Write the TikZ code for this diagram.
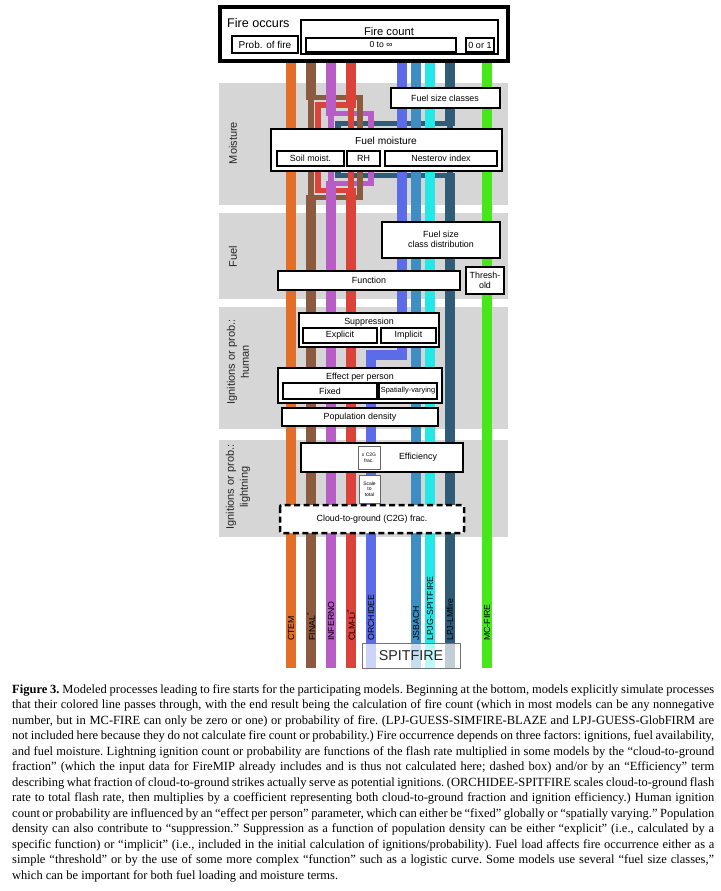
\documentclass[tikz,border=0pt]{standalone}
\usepackage{fontspec}
\setmainfont{Liberation Serif}
\newfontfamily\diagfont{Liberation Sans}
\usetikzlibrary{calc}

\definecolor{ctem}{RGB}{226,110,40}
\definecolor{final}{RGB}{140,90,62}
\definecolor{inferno}{RGB}{184,92,198}
\definecolor{clmli}{RGB}{218,66,58}
\definecolor{orchidee}{RGB}{92,108,232}
\definecolor{jsbach}{RGB}{62,142,196}
\definecolor{lpjgspit}{RGB}{36,232,232}
\definecolor{lmfire}{RGB}{48,92,120}
\definecolor{mcfire}{RGB}{70,232,26}
\definecolor{bandgrey}{RGB}{214,214,214}

\def\capline#1{\hbox to 702pt{#1}}

\tikzset{
	band/.style={fill=bandgrey},
	modelline/.style={line width=9.5pt, line cap=butt, line join=miter},
	loopline/.style={line width=5.5pt, line join=miter},
	procbox/.style={draw=black, fill=white, line width=2.5pt},
	subbox/.style={draw=black, fill=white, line width=1.2pt},
	tinybox/.style={draw=black!60, fill=white, line width=0.8pt},
	boxtxt/.style={inner sep=0pt, font=\diagfont\fontsize{8.9}{10.5}\selectfont, align=center},
	smalltxt/.style={inner sep=0pt, font=\diagfont\fontsize{7.4}{9}\selectfont},
	tinytxt/.style={inner sep=0pt, font=\diagfont\fontsize{5}{5.6}\selectfont, align=center},
	sectlbl/.style={inner sep=0pt, rotate=90, align=center, font=\diagfont\fontsize{11}{14}\selectfont, text=black!85},
	modellbl/.style={inner sep=0pt, rotate=90, anchor=west, font=\diagfont\fontsize{8.8}{10}\selectfont}
}

\begin{document}
\begin{tikzpicture}[x=1pt,y=-1pt]
			\useasboundingbox (0,0) rectangle (720,891);
			%%%%% START %%%%%
			
			% grey bands
			\fill[band] (219,83) rectangle (508,205);
			\fill[band] (219,213) rectangle (508,299);
			\fill[band] (219,307) rectangle (508,429);
			\fill[band] (219,440) rectangle (508,537);
			
			\node[sectlbl] (lblmoist) at (233,143) {Moisture};
			\node[sectlbl] (lblfuel) at (233,257) {Fuel};
			\node[sectlbl] (lblhuman) at (238,362) {Ignitions or prob.:\\human};
			\node[sectlbl] (lbllight) at (238,487) {Ignitions or prob.:\\lightning};
			
			% moisture detours
			\draw[loopline, draw=lmfire] (338,123.5) rectangle (450,175.5);
			\draw[loopline, draw=inferno] (331,113.5) rectangle (371,183.5);
			\draw[loopline, draw=clmli] (318,105) rectangle (351,190.5);
			\draw[loopline, draw=final] (311,97.5) rectangle (360,197.5);
			
			% model lines
			\draw[modelline, draw=ctem] (291,58) -- (291,668);
			\draw[modelline, draw=final] (311,58) -- (311,100);
			\draw[modelline, draw=final] (311,195) -- (311,668);
			\draw[modelline, draw=inferno] (331,58) -- (331,116);
			\draw[modelline, draw=inferno] (331,181) -- (331,668);
			\draw[modelline, draw=clmli] (351,58) -- (351,107.5);
			\draw[modelline, draw=clmli] (351,188) -- (351,668);
			\draw[modelline, draw=orchidee] (402,58) -- (402,355) -- (371,355) -- (371,668);
			\draw[modelline, draw=jsbach] (416,58) -- (416,668);
			\draw[modelline, draw=lpjgspit] (430,58) -- (430,668);
			\draw[modelline, draw=lmfire] (450,58) -- (450,126);
			\draw[modelline, draw=lmfire] (450,173) -- (450,668);
			\draw[modelline, draw=mcfire] (487,58) -- (487,668);
			
			% fire occurs
			\draw[line width=3.5pt, fill=white] (220,7) rectangle (508,61);
			\node[anchor=west, inner sep=0pt, font=\diagfont\fontsize{12.6}{14}\selectfont] (fireoccurs) at (227,23) {Fire occurs};
			\draw[line width=1.4pt] (232,36) rectangle (298,53);
			\node[inner sep=0pt, font=\diagfont\fontsize{10}{12}\selectfont] (probfire) at (265,45) {Prob. of fire};
			\draw[line width=1.4pt] (301,20) rectangle (498,54);
			\node[inner sep=0pt, font=\diagfont\fontsize{11.2}{13}\selectfont] (firecount) at (389,31) {Fire count};
			\draw[line width=1.4pt] (306,38) rectangle (456,52);
			\node[inner sep=0pt, font=\diagfont\fontsize{8.6}{10}\selectfont] (zeroinf) at (381,45) {0 to ∞};
			\draw[line width=1.4pt] (466,38) rectangle (494,52);
			\node[inner sep=0pt, font=\diagfont\fontsize{9}{10}\selectfont] (zeroone) at (480,45) {0 or 1};
			
			% moisture
			\draw[procbox] (391,88) rectangle (500,108);
			\node[boxtxt] (sizeclasses) at (445,98) {Fuel size classes};
			\draw[procbox] (271,129) rectangle (502,171);
			\node[boxtxt, font=\diagfont\fontsize{10.2}{12}\selectfont] (fuelmoist) at (386,141) {Fuel moisture};
			\draw[subbox] (277,151) rectangle (344,166);
			\node[boxtxt] (soilmoist) at (310.5,158.5) {Soil moist.};
			\draw[subbox] (347,151) rectangle (380,166);
			\node[boxtxt] (relhum) at (363.5,158.5) {RH};
			\draw[subbox] (385,151) rectangle (497,166);
			\node[boxtxt] (nesterov) at (441,158.5) {Nesterov index};
			
			% fuel
			\draw[procbox] (382,222) rectangle (500,258);
			\node[boxtxt] (sizedist) at (441,239.5) {Fuel size\\class distribution};
			\draw[procbox] (278,271) rectangle (460,290);
			\node[boxtxt] (function) at (369,280.5) {Function};
			\draw[procbox] (466,267) rectangle (504,294);
			\node[boxtxt] (threshold) at (485,280.5) {Thresh-\\old};
			
			% human
			\draw[procbox] (299,313) rectangle (439,347);
			\node[boxtxt] (suppress) at (369,322) {Suppression};
			\draw[subbox] (303,328) rectangle (377,343);
			\node[boxtxt] (explicit) at (340,335.5) {Explicit};
			\draw[subbox] (381,328) rectangle (436,343);
			\node[boxtxt] (implicit) at (408.5,335.5) {Implicit};
			\draw[procbox] (278,368) rectangle (442,403);
			\node[boxtxt] (perperson) at (360,377) {Effect per person};
			\draw[subbox] (283,383) rectangle (377,399);
			\node[boxtxt] (fixed) at (330,391) {Fixed};
			\draw[subbox] (379,383) rectangle (437,399);
			\node[smalltxt] (spatvar) at (408,391) {Spatially-varying};
			\draw[procbox] (282,408) rectangle (438,426);
			\node[boxtxt] (popdens) at (360,417) {Population density};
			
			% lightning
			\draw[procbox] (301,443) rectangle (463,472);
			\node[boxtxt] (efficiency) at (418,457.5) {Efficiency};
			\draw[tinybox] (358,446) rectangle (380,469);
			\node[tinytxt] (xctog) at (369,457.5) {x C2G\\frac.};
			\draw[tinybox] (359,475) rectangle (380,503);
			\node[tinytxt] (scaletotal) at (369.5,489) {Scale\\to\\total};
			\draw[procbox, dashed, dash pattern=on 6pt off 3.5pt, rounded corners=2pt] (280,505) rectangle (464,533);
			\node[boxtxt] (ctogfrac) at (372,519) {Cloud-to-ground (C2G) frac.};
			
			% model names
			\node[modellbl] (nmctem) at (291,641) {CTEM};
			\node[modellbl] (nmfinal) at (311,641) {FINAL\textsuperscript{*}};
			\node[modellbl] (nminferno) at (331,641) {INFERNO};
			\node[modellbl] (nmclmli) at (351,641) {CLM-Li\textsuperscript{*}};
			\node[modellbl] (nmorchidee) at (371,641) {ORCHIDEE};
			\node[modellbl] (nmjsbach) at (416,641) {JSBACH};
			\node[modellbl] (nmlpjgspit) at (430,641) {LPJG-SPITFIRE};
			\node[modellbl] (nmlmfire) at (450,641) {LPJ-LMfire};
			\node[modellbl] (nmmcfire) at (487,641) {MC-FIRE};
			
			\draw[draw=black!55, fill=white, fill opacity=0.7, line width=1pt] (362,643) rectangle (460,668);
			\node[inner sep=0pt, font=\diagfont\fontsize{14.3}{16}\selectfont, text=black!85] (spitfire) at (411,656) {SPITFIRE};
			
			% caption
			\node[anchor=north west, inner sep=0pt] (caption) at (12,684) {\begin{minipage}{702pt}\fontsize{12.5}{15.5}\selectfont\frenchspacing
				\capline{\textbf{Figure 3.} Modeled processes leading to fire starts for the participating models. Beginning at the bottom, models explicitly simulate processes}
				\capline{that their colored line passes through, with the end result being the calculation of fire count (which in most models can be any nonnegative}
				\capline{number, but in MC-FIRE can only be zero or one) or probability of fire. (LPJ-GUESS-SIMFIRE-BLAZE and LPJ-GUESS-GlobFIRM are}
				\capline{not included here because they do not calculate fire count or probability.) Fire occurrence depends on three factors: ignitions, fuel availability,}
				\capline{and fuel moisture. Lightning ignition count or probability are functions of the flash rate multiplied in some models by the ``cloud-to-ground}
				\capline{fraction'' (which the input data for FireMIP already includes and is thus not calculated here; dashed box) and/or by an ``Efficiency'' term}
				\capline{describing what fraction of cloud-to-ground strikes actually serve as potential ignitions. (ORCHIDEE-SPITFIRE scales cloud-to-ground flash}
				\capline{rate to total flash rate, then multiplies by a coefficient representing both cloud-to-ground fraction and ignition efficiency.) Human ignition}
				\capline{count or probability are influenced by an ``effect per person'' parameter, which can either be ``fixed'' globally or ``spatially varying.'' Population}
				\capline{density can also contribute to ``suppression.'' Suppression as a function of population density can be either ``explicit'' (i.e., calculated by a}
				\capline{specific function) or ``implicit'' (i.e., included in the initial calculation of ignitions/probability). Fuel load affects fire occurrence either as a}
				\capline{simple ``threshold'' or by the use of some more complex ``function'' such as a logistic curve. Some models use several ``fuel size classes,''}
				\hbox{which can be important for both fuel loading and moisture terms.}
			\end{minipage}};
			
			%%%%% END %%%%%
\end{tikzpicture}
\end{document}
